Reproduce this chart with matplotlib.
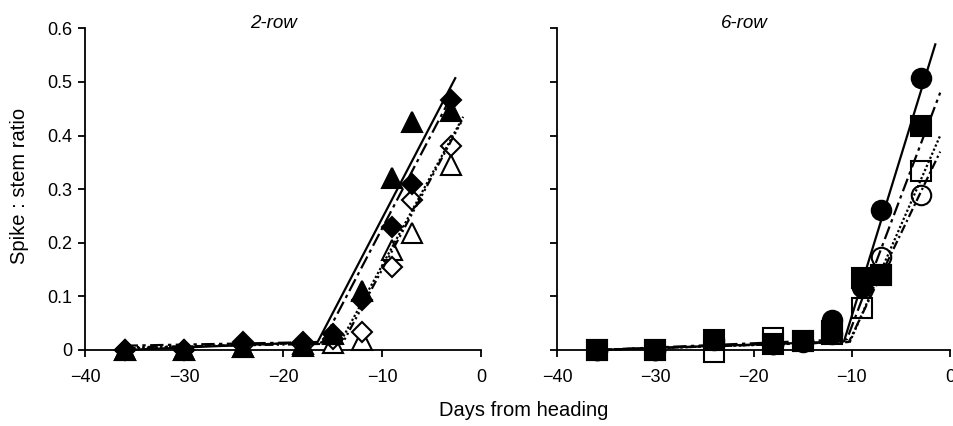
import matplotlib
matplotlib.use("Agg")
import matplotlib.pyplot as plt

plt.rcParams['font.family'] = ['Liberation Sans', 'DejaVu Sans']

# ---------------- data ----------------
days = [-36, -30, -24, -18, -15, -12, -9, -7, -3]

# 2-row panel
row2_filled_tri = [0.0, 0.0, 0.005, 0.012, 0.03, 0.11, 0.32, 0.425, 0.445]
row2_filled_dia = [0.0, 0.0, 0.015, 0.015, 0.03, 0.093, 0.23, 0.31, 0.466]
row2_open_dia = [0.0, 0.0, 0.01, 0.01, 0.02, 0.034, 0.155, 0.28, 0.38]
row2_open_tri = [0.0, 0.0, 0.005, 0.008, 0.013, 0.019, 0.187, 0.218, 0.345]

# 6-row panel
row6_filled_circ = [0.0, 0.0, 0.018, 0.011, 0.017, 0.056, 0.118, 0.262, 0.507]
row6_filled_sq = [0.0, 0.0, 0.019, 0.011, 0.017, 0.035, 0.135, 0.14, 0.418]
row6_open_sq = [0.0, 0.0, -0.003, 0.022, 0.017, 0.03, 0.078, 0.14, 0.333]
row6_open_circ = [0.0, 0.0, 0.01, 0.012, 0.015, 0.03, 0.12, 0.174, 0.29]

# broken-stick fitted lines (start, break, end)
row2_fit_tri_x, row2_fit_tri_y = [-36, -16.5, -2.6], [0.0, 0.015, 0.507]
row2_fit_dia_x, row2_fit_dia_y = [-36, -16.0, -2.8], [0.008, 0.015, 0.48]
row2_fit_odia_x, row2_fit_odia_y = [-36, -14.2, -1.8], [0.003, 0.015, 0.435]
row2_fit_otri_x, row2_fit_otri_y = [-36, -14.0, -2.0], [0.005, 0.012, 0.425]

row6_fit_circ_x, row6_fit_circ_y = [-36, -10.8, -1.5], [0.0, 0.016, 0.57]
row6_fit_sq_x, row6_fit_sq_y = [-36, -10.5, -1.0], [0.0, 0.02, 0.48]
row6_fit_osq_x, row6_fit_osq_y = [-36, -10.3, -1.0], [0.0, 0.015, 0.37]
row6_fit_ocirc_x, row6_fit_ocirc_y = [-36, -10.2, -1.0], [0.0, 0.015, 0.40]

x_ticks = [-40, -30, -20, -10, 0]
y_ticks = [0, 0.1, 0.2, 0.3, 0.4, 0.5, 0.6]
y_ticklabels = ['0', '0.1', '0.2', '0.3', '0.4', '0.5', '0.6']

# ---------------- figure ----------------
W, H = 954, 426
fig = plt.figure(figsize=(W / 100, H / 100), dpi=100)

ax1 = fig.add_axes([85 / W, 1 - 350 / H, (481 - 85) / W, (350 - 28.3) / H])
ax2 = fig.add_axes([557.3 / W, 1 - 350 / H, (950 - 557.3) / W, (350 - 28.3) / H])

lw = 1.6
tick_fs = 13


def style(ax, show_ylabels):
    ax.set_xlim(-40, 0)
    ax.set_ylim(0, 0.6)
    for s in ['top', 'right']:
        ax.spines[s].set_visible(False)
    for s in ['left', 'bottom']:
        ax.spines[s].set_linewidth(1.3)
    ax.set_xticks(x_ticks)
    ax.set_xticklabels([f'\u2212{abs(t)}' if t < 0 else str(t) for t in x_ticks])
    ax.set_yticks(y_ticks)
    if show_ylabels:
        ax.set_yticklabels(y_ticklabels)
    else:
        ax.set_yticklabels([])
    ax.tick_params(direction='out', length=5, width=1.3, labelsize=tick_fs)
    ax.tick_params(axis='x', pad=9)
    ax.tick_params(axis='y', pad=4)


def mk(ax, x, y, marker, filled, ms):
    ax.plot(x, y, linestyle='none', marker=marker, ms=ms,
            mfc='black' if filled else 'white', mec='black', mew=1.5,
            clip_on=False, zorder=3)


def fit(ax, x, y, ls):
    ax.plot(x, y, color='black', linestyle=ls, lw=lw, clip_on=False, zorder=4)


# ---- 2-row ----
mk(ax1, days, row2_open_tri, '^', False, 14)
mk(ax1, days, row2_open_dia, 'D', False, 10)
mk(ax1, days, row2_filled_dia, 'D', True, 10)
mk(ax1, days, row2_filled_tri, '^', True, 14)
fit(ax1, row2_fit_tri_x, row2_fit_tri_y, '-')
fit(ax1, row2_fit_dia_x, row2_fit_dia_y, (0, (6, 2, 1.5, 2)))
fit(ax1, row2_fit_odia_x, row2_fit_odia_y, (0, (1, 1)))
fit(ax1, row2_fit_otri_x, row2_fit_otri_y, (0, (4, 1.5, 1, 1.5, 1, 1.5)))
style(ax1, True)

# ---- 6-row ----
mk(ax2, days, row6_open_circ, 'o', False, 14)
mk(ax2, days, row6_open_sq, 's', False, 15)
mk(ax2, days, row6_filled_circ, 'o', True, 14)
mk(ax2, days, row6_filled_sq, 's', True, 15)
fit(ax2, row6_fit_circ_x, row6_fit_circ_y, '-')
fit(ax2, row6_fit_sq_x, row6_fit_sq_y, (0, (6, 2, 1.5, 2)))
fit(ax2, row6_fit_osq_x, row6_fit_osq_y, (0, (4, 1.5, 1, 1.5)))
fit(ax2, row6_fit_ocirc_x, row6_fit_ocirc_y, (0, (1, 1)))
style(ax2, False)

# titles
for ax, t in [(ax1, '2-row'), (ax2, '6-row')]:
    ax.text(-21, 1.015, t, transform=ax.get_xaxis_transform(), ha='center', va='center',
            fontsize=13.5, fontstyle='italic')

fig.text(524 / W, 1 - 410 / H, 'Days from heading', ha='center', va='center', fontsize=14.5)
fig.text(20 / W, 1 - 186 / H, 'Spike : stem ratio', ha='center', va='center',
         rotation=90, fontsize=14.5)

fig.savefig('out.png', dpi=100)
